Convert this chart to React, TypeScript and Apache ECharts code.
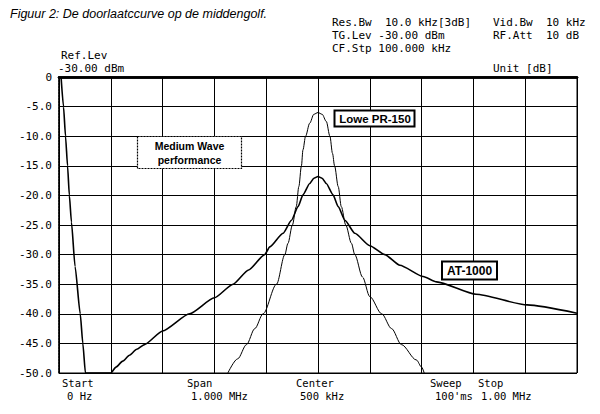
import React, { useEffect, useRef } from "react";
import * as echarts from "echarts";

// Frequency in kHz, level in dB
const loweData: [number, number][] = [
  [326, -50], [345, -47.6], [362, -45.2], [378, -42.5], [394, -40], [420, -35],
  [436, -30], [442, -28.1], [450.6, -25], [458, -21.9], [463, -18.5], [468, -15],
  [471, -12.3], [476, -10], [484, -7.8], [492, -6.3], [500, -6.0], [508, -6.3],
  [516, -7.5], [523, -10], [528, -12.9], [532, -15], [539, -18.5], [545, -21.9],
  [553.6, -25], [564.6, -28.1], [571, -30], [586, -33.8], [600, -37.1], [623, -40],
  [642, -42.5], [661, -45.2], [690, -47.8], [700, -49], [705, -50],
];

const atData: [number, number][] = [
  [4, 0], [8.7, -5], [12.6, -10], [16.5, -15], [20, -20], [24, -24.5], [31, -32],
  [41, -40], [46, -45], [51, -50], [100, -50], [110, -49], [123, -48], [136, -47],
  [150, -46], [165, -45.2], [200, -42.9], [252, -40], [300, -37.3], [336, -35],
  [366, -32.6], [397, -30], [407, -28.7], [432.5, -26.4], [448.7, -24.2],
  [461.5, -21.9], [471, -19.9], [484, -18], [492, -17.1], [500, -16.8], [508, -17.1],
  [516, -18], [529, -19.9], [539, -21.9], [552, -24.2], [571, -26.4], [600, -28.5],
  [629, -30], [658, -31.8], [703, -33.7], [729, -34.6], [805, -36.7], [904, -38.5],
  [1000, -39.9],
];

const titleText = "Figuur 2: De doorlaatccurve op de middengolf.";
const headerLeft = ["Res.Bw  10.0 kHz[3dB]", "TG.Lev -30.00 dBm", "CF.Stp 100.000 kHz"];
const headerRight = ["Vid.Bw  10 kHz", "RF.Att  10 dB"];
const refLines = ["Ref.Lev", "-30.00 dBm"];
const unitText = "Unit [dB]";
const bottomLabels: { t: string; x: number; y: number }[] = [
  { t: "Start", x: 62, y: 383 }, { t: "0 Hz", x: 67, y: 396 },
  { t: "Span", x: 187, y: 383 }, { t: "1.000 MHz", x: 191, y: 396 },
  { t: "Center", x: 296, y: 383 }, { t: "500 kHz", x: 300, y: 396 },
  { t: "Sweep", x: 430, y: 383 }, { t: "100'ms", x: 435, y: 396 },
  { t: "Stop", x: 478, y: 383 }, { t: "1.00 MHz", x: 481, y: 396 },
];
const yMin = -50;
const yMax = 0;
const yStep = 5;
const xMin = 0;
const xMax = 1000;
const xStep = 100;

const MONO = "DejaVu Sans Mono";

export default function App() {
  const ref = useRef<HTMLDivElement>(null);
  useEffect(() => {
    if (!ref.current) return;
    const chart = echarts.init(ref.current, undefined, { renderer: "svg" });
    const mono = (t: string, x: number, y: number, size = 11) => ({
      type: "text",
      x,
      y,
      style: { text: t, font: `${size}px "${MONO}"`, fill: "#000", textVerticalAlign: "middle" },
    });
    const graphics: any[] = [
      {
        type: "text",
        x: 10,
        y: 14,
        style: {
          text: titleText,
          font: 'italic 12.5px "Liberation Sans"',
          fill: "#000",
          textVerticalAlign: "middle",
        },
      },
      ...headerLeft.map((t, i) => mono(t, 332, 22 + i * 13)),
      ...headerRight.map((t, i) => mono(t, 493, 22 + i * 13)),
      mono(refLines[0], 61, 55),
      mono(refLines[1], 58, 68),
      mono(unitText, 493, 68),
      ...bottomLabels.map((b) => mono(b.t, b.x, b.y, 10.5)),
      {
        type: "rect",
        shape: { x: 137.5, y: 136.5, width: 104, height: 32 },
        style: { fill: "#fff", stroke: "#000", lineWidth: 1.2, lineDash: [2, 1] },
        z: 10,
      },
      {
        type: "text",
        x: 189.5,
        y: 152.5,
        z: 11,
        style: {
          text: "Medium Wave\nperformance",
          font: 'bold 10.5px "Liberation Sans"',
          fill: "#000",
          align: "center",
          verticalAlign: "middle",
          lineHeight: 14,
        },
      },
      {
        type: "rect",
        shape: { x: 334.5, y: 110.5, width: 80, height: 16 },
        style: { fill: "#fff", stroke: "#000", lineWidth: 2 },
        z: 10,
      },
      {
        type: "text",
        x: 375,
        y: 118.5,
        z: 11,
        style: {
          text: "Lowe PR-150",
          font: 'bold 11.5px "Liberation Sans"',
          fill: "#000",
          align: "center",
          verticalAlign: "middle",
        },
      },
      {
        type: "rect",
        shape: { x: 442, y: 261.5, width: 55, height: 18 },
        style: { fill: "#fff", stroke: "#000", lineWidth: 2 },
        z: 10,
      },
      {
        type: "text",
        x: 469.5,
        y: 270.5,
        z: 11,
        style: {
          text: "AT-1000",
          font: 'bold 12px "Liberation Sans"',
          fill: "#000",
          align: "center",
          verticalAlign: "middle",
        },
      },
    ];

    chart.setOption({
      animation: false,
      backgroundColor: "#fff",
      grid: {
        left: 59,
        top: 77,
        right: 23,
        bottom: 41,
        show: true,
        borderColor: "#000",
        borderWidth: 1,
      },
      xAxis: [
        {
          type: "value",
          min: xMin,
          max: xMax,
          interval: xStep,
          axisLabel: { show: false },
          axisTick: { show: false },
          axisLine: { show: true, lineStyle: { color: "#000", width: 2.5 } },
          splitLine: { show: true, lineStyle: { color: "#000", width: 1 } },
        },
        {
          type: "value",
          position: "top",
          min: xMin,
          max: xMax,
          interval: xStep,
          axisLabel: { show: false },
          axisTick: { show: false },
          axisLine: { show: true, lineStyle: { color: "#000", width: 2.5 } },
          splitLine: { show: false },
        },
      ],
      yAxis: {
        type: "value",
        min: yMin,
        max: yMax,
        interval: yStep,
        axisTick: { show: false },
        axisLine: { show: true, lineStyle: { color: "#000", width: 1.5, type: [2, 1] } },
        splitLine: { show: true, lineStyle: { color: "#000", width: 1 } },
        axisLabel: {
          color: "#000",
          fontFamily: MONO,
          fontSize: 11,
          margin: 7,
          formatter: (v: number) => (v === 0 ? "0" : v.toFixed(1)),
        },
      },
      series: [
        {
          name: "AT-1000",
          type: "line",
          xAxisIndex: 0,
          data: atData,
          showSymbol: false,
          smooth: 0.2,
          smoothMonotone: "x",
          lineStyle: { color: "#000", width: 1.6 },
          z: 3,
        },
        {
          name: "Lowe PR-150",
          type: "line",
          xAxisIndex: 0,
          data: loweData,
          showSymbol: false,
          smooth: 0.3,
          smoothMonotone: "x",
          lineStyle: { color: "#000", width: 1 },
          z: 3,
        },
      ],
      graphic: graphics,
    });
    return () => chart.dispose();
  }, []);
  return (
    <div
      ref={ref}
      style={{ position: "absolute", left: 0, top: 0, width: 600, height: 414, background: "#fff" }}
    />
  );
}
